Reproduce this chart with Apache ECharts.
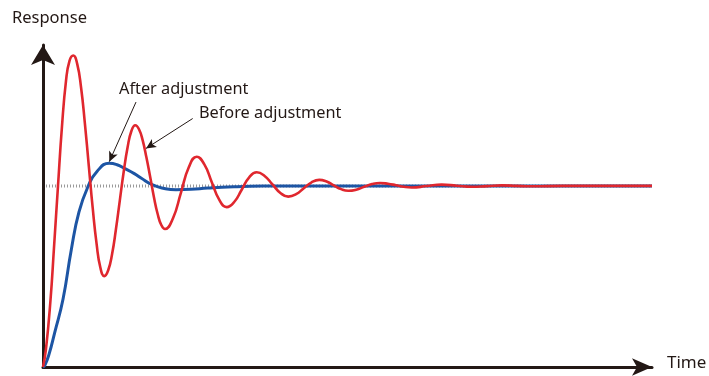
<!DOCTYPE html>
<html>
<head>
<meta charset="utf-8">
<script src="https://cdn.jsdelivr.net/npm/echarts@6/dist/echarts.min.js"></script>
<style>html,body{margin:0;padding:0;background:#fff}#chart{width:709px;height:376px}</style>
</head>
<body>
<div id="chart"></div>
<script>
// time (arbitrary units), response (1 = steady state)
const beforeAdjustment = [
  [0,0],[0.3,0.1],[0.75,0.37],[1.1,0.66],[1.5,1.0],[1.9,1.33],[2.3,1.58],[2.65,1.69],[3.03,1.72],
  [3.42,1.674],[3.81,1.542],[4.19,1.344],[4.58,1.111],[4.97,0.878],[5.36,0.68],[5.74,0.548],[6.13,0.502],
  [6.52,0.534],[6.91,0.624],[7.29,0.759],[7.68,0.919],[8.07,1.078],[8.46,1.213],[8.84,1.303],[9.23,1.335],
  [9.6,1.313],[9.97,1.251],[10.34,1.158],[10.72,1.049],[11.09,0.939],[11.46,0.846],[11.83,0.784],[12.2,0.762],
  [12.99,0.82],[13.79,0.962],[14.58,1.103],[15.37,1.161],
  [16.12,1.12],[16.87,1.022],[17.62,0.924],[18.37,0.883],
  [19.12,0.911],[19.87,0.979],[20.62,1.047],[21.37,1.075],
  [22.16,1.055],[22.95,1.008],[23.74,0.961],[24.53,0.941],
  [25.31,0.954],[26.08,0.987],[26.86,1.02],[27.63,1.033],
  [28.36,1.024],[29.08,1.003],[29.81,0.982],[30.53,0.973],
  [31.32,0.979],[32.12,0.995],[32.91,1.01],[33.7,1.016],
  [34.49,1.012],[35.29,1.004],[36.08,0.995],[36.87,0.991],
  [38.37,0.999],[39.87,1.007],[41.37,1.001],[42.87,0.995],[44.4,0.999],[45.9,1.003],
  [47.4,1.0],[48.9,0.998],[52,1.0],[60.9,1.0]
];
const afterAdjustment = [
  [0,0],[0.17,0.007],[0.6,0.07],[1.17,0.19],[2.0,0.374],[2.83,0.648],[3.6,0.856],[4.53,1.0],[5.4,1.08],
  [6.63,1.125],[7.4,1.117],[8.13,1.097],[9.13,1.068],[9.8,1.044],[10.97,1.005],[12.13,0.986],[13.3,0.979],
  [14.8,0.981],[16.47,0.988],[19.1,0.995],[22,0.999],[25,1.0],[60.9,1.0]
];
const steadyState = [[0.3,1],[60.9,1]];
const labelAfter = 'After adjustment';
const labelBefore = 'Before adjustment';
const axisNameY = 'Response';
const axisNameX = 'Time';

const ink = '#231815';
const chart = echarts.init(document.getElementById('chart'), null, {renderer:'canvas'});
chart.setOption({
  animation: false,
  grid: {left: 43, right: 57, top: 45, bottom: 9},
  xAxis: {
    type: 'value', min: 0, max: 60.9,
    axisLine: {show: true, onZero: false, symbol: ['none','arrow'], symbolSize: [13,20], lineStyle: {color: ink, width: 3}},
    axisTick: {show: false}, axisLabel: {show: false}, splitLine: {show: false}
  },
  yAxis: {
    type: 'value', min: 0, max: 1.778,
    axisLine: {show: true, onZero: false, symbol: ['none','arrow'], symbolSize: [18,20], lineStyle: {color: ink, width: 3}},
    axisTick: {show: false}, axisLabel: {show: false}, splitLine: {show: false}
  },
  series: [
    {type: 'line', data: steadyState, symbol: 'none', silent: true, z: 1,
     lineStyle: {color: '#9a9a9a', width: 3, type: [1,2]}},
    {type: 'line', data: afterAdjustment, symbol: 'none', smooth: 0.5, z: 2,
     lineStyle: {color: '#1d55a4', width: 3},
     markLine: {silent: true, symbol: ['none','arrow'], symbolSize: [7,10], label: {show: false},
       lineStyle: {color: ink, width: 1, type: 'solid'},
       data: [
         [{coord: [9.3, 1.463]}, {coord: [6.63, 1.134]}],
         [{coord: [14.97, 1.372]}, {coord: [10.3, 1.207]}]
       ]}},
    {type: 'line', data: beforeAdjustment, symbol: 'none', smooth: 0.5, z: 3,
     lineStyle: {color: '#e0272e', width: 2.6}}
  ],
  graphic: [
    {type: 'text', left: 12, top: 10, style: {text: axisNameY, fill: ink, font: '16.5px "Noto Sans"'}},
    {type: 'text', left: 667, top: 355, style: {text: axisNameX, fill: ink, font: '17px "Noto Sans"'}},
    {type: 'text', left: 119, top: 81, style: {text: labelAfter, fill: ink, font: '16.3px "Noto Sans"'}},
    {type: 'text', left: 199, top: 105, style: {text: labelBefore, fill: ink, font: '16.3px "Noto Sans"'}}
  ]
});
</script>
</body>
</html>
